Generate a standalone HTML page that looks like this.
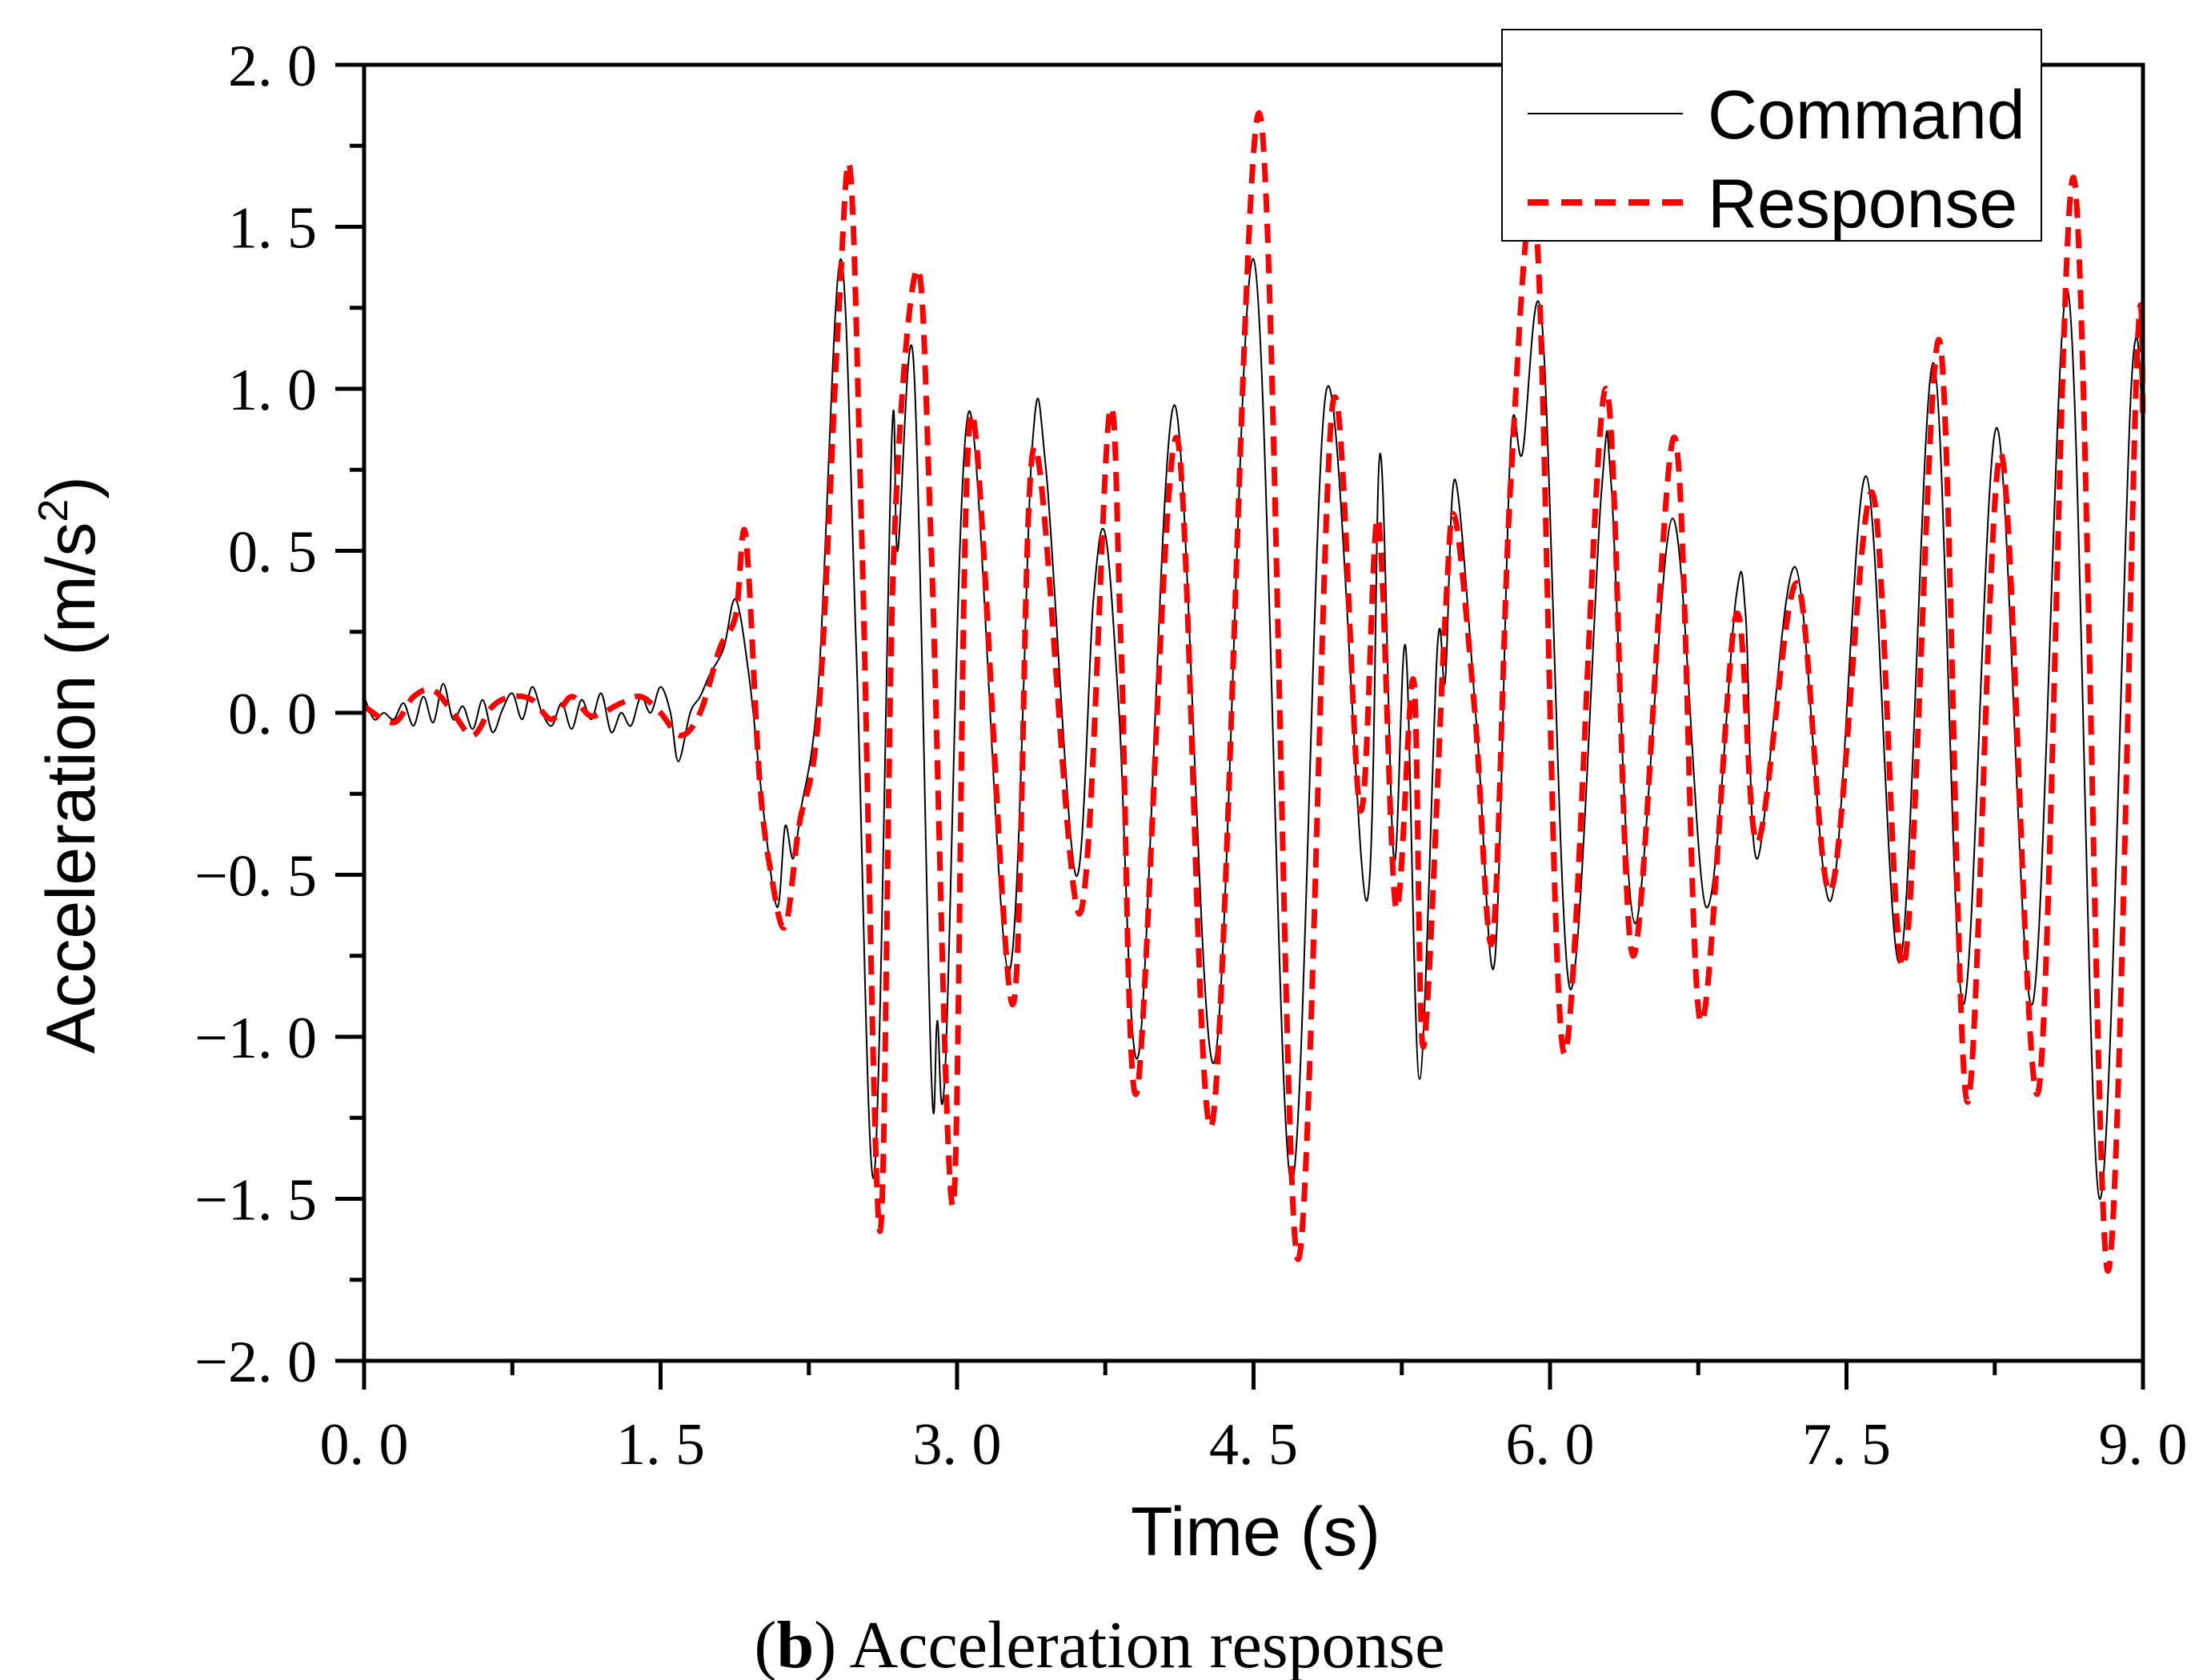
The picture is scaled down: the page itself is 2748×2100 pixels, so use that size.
<!DOCTYPE html>
<html><head><meta charset="utf-8"><style>html,body{margin:0;padding:0;background:#fff}svg{display:block}</style></head>
<body>
<svg id="chart" width="2748" height="2100" xmlns="http://www.w3.org/2000/svg">
<rect width="2748" height="2100" fill="#fff"/>
<g id="plot"></g>
<g id="axes"></g>
<text x="1569" y="1944" font-family="Liberation Sans, sans-serif" font-size="86" text-anchor="middle">Time (s)</text>
<text transform="translate(118,956) rotate(-90)" font-family="Liberation Sans, sans-serif" font-size="86" text-anchor="middle">Acceleration (m/s<tspan font-size="52" dy="-34">2</tspan><tspan dy="34">)</tspan></text>
<text x="1374" y="2084" font-family="Liberation Serif, serif" font-size="84" text-anchor="middle">(<tspan font-weight="bold">b</tspan>) Acceleration response</text>
<g>
<rect x="1877" y="37" width="674" height="264" fill="#fff" stroke="#000" stroke-width="2"/>
<line x1="1909" y1="142" x2="2103" y2="142" stroke="#000" stroke-width="2"/>
<text x="2134" y="173" font-family="Liberation Sans, sans-serif" font-size="86">Command</text>
<line x1="1909" y1="253" x2="2103" y2="253" stroke="#f00" stroke-width="8" stroke-dasharray="26,16"/>
<text x="2134" y="284" font-family="Liberation Sans, sans-serif" font-size="86">Response</text>
</g>
</svg>
<script>
const cmdT=[0,0.05,0.1,0.15,0.2,0.25,0.3,0.35,0.4,0.45,0.5,0.55,0.6,0.65,0.7,0.75,0.8,0.85,0.9,0.95,1.0,1.05,1.1,1.15,1.2,1.25,1.3,1.35,1.4,1.45,1.5,1.55,1.59,1.65,1.7,1.75,1.82,1.88,1.95,2.02,2.09,2.13,2.17,2.21,2.3,2.41,2.49,2.58,2.67,2.70,2.78,2.87,2.90,2.94,3.06,3.26,3.38,3.45,3.60,3.69,3.75,3.82,3.92,4.10,4.30,4.50,4.69,4.87,5.07,5.14,5.21,5.27,5.34,5.43,5.47,5.52,5.63,5.72,5.80,5.86,5.96,6.10,6.26,6.31,6.43,6.62,6.79,6.94,6.99,7.05,7.24,7.42,7.60,7.77,7.94,8.09,8.26,8.44,8.62,8.78,8.94,9.0];
const cmdV=[0.05,-0.02,0.0,-0.02,0.03,-0.04,0.05,-0.03,0.09,-0.02,0.02,-0.05,0.04,-0.06,0.01,0.06,-0.02,0.08,0.0,-0.04,0.03,-0.05,0.04,-0.02,0.06,-0.06,0.0,-0.04,0.05,0.0,0.08,0.0,-0.15,0.0,0.05,0.12,0.2,0.35,0.1,-0.3,-0.6,-0.35,-0.45,-0.3,0.1,1.4,0.2,-1.43,0.85,0.5,1.08,-1.12,-0.95,-1.1,0.93,-0.8,0.82,0.75,-0.5,0.35,0.55,0.0,-1.05,0.95,-1.08,1.4,-1.45,1.0,-0.58,0.8,-0.45,0.2,-1.13,0.2,0.1,0.72,-0.05,-0.77,0.82,0.8,1.2,-0.85,0.68,0.7,-0.65,0.6,-0.6,0.35,0.3,-0.45,0.45,-0.58,0.73,-0.77,1.08,-0.9,0.88,-0.9,1.3,-1.5,1.0,0.9];
const resT=[0,0.15,0.25,0.35,0.45,0.55,0.65,0.75,0.85,0.95,1.05,1.15,1.3,1.4,1.5,1.6,1.7,1.8,1.88,1.93,2.0,2.06,2.13,2.2,2.3,2.40,2.46,2.52,2.61,2.68,2.80,2.87,2.98,3.07,3.28,3.39,3.62,3.77,3.83,3.91,4.11,4.29,4.53,4.72,4.90,5.04,5.13,5.22,5.31,5.36,5.47,5.52,5.62,5.71,5.80,5.93,6.07,6.28,6.42,6.63,6.76,6.94,7.05,7.25,7.42,7.63,7.79,7.97,8.11,8.28,8.47,8.65,8.82,8.97,9.0];
const resV=[0.02,-0.03,0.05,0.07,0.0,-0.07,0.02,0.05,0.04,-0.02,0.05,-0.01,0.03,0.05,0.0,-0.07,0.0,0.2,0.3,0.55,-0.2,-0.5,-0.66,-0.35,0.0,1.22,1.67,0.5,-1.6,0.5,1.37,0.5,-1.52,0.92,-0.9,0.82,-0.62,0.92,0.2,-1.17,0.85,-1.27,1.85,-1.68,0.95,-0.3,0.6,-0.6,0.1,-1.03,0.3,0.6,0.0,-0.7,0.7,1.5,-1.05,1.0,-0.75,0.85,-0.95,0.3,-0.4,0.4,-0.55,0.68,-0.78,1.15,-1.2,0.8,-1.17,1.65,-1.72,1.1,0.9];
const xTicks=[0,1.5,3.0,4.5,6.0,7.5,9.0];
const xTickLabels=["0. 0","1. 5","3. 0","4. 5","6. 0","7. 5","9. 0"];
const yTicks=[-2,-1.5,-1,-0.5,0,0.5,1,1.5,2];
const yTickLabels=["\u22122. 0","\u22121. 5","\u22121. 0","\u22120. 5","0. 0","0. 5","1. 0","1. 5","2. 0"];

const L=455,R=2678,T=81,B=1701;
const xs=t=>L+(t-0)/(9-0)*(R-L);
const ys=v=>B-(v+2)/4*(B-T);
const NS="http://www.w3.org/2000/svg";
function mk(tag,parent){const e=document.createElementNS(NS,tag);parent.appendChild(e);return e;}
function curve(T_,V){
  const p=T_.map((t,i)=>[xs(t),ys(V[i])]);
  let d="M"+p[0][0].toFixed(1)+","+p[0][1].toFixed(1);
  for(let i=0;i<p.length-1;i++){
    const p0=p[Math.max(0,i-1)],p1=p[i],p2=p[i+1],p3=p[Math.min(p.length-1,i+2)];
    const c1=[p1[0]+(p2[0]-p0[0])/6,p1[1]+(p2[1]-p0[1])/6];
    const c2=[p2[0]-(p3[0]-p1[0])/6,p2[1]-(p3[1]-p1[1])/6];
    d+="C"+c1[0].toFixed(1)+","+c1[1].toFixed(1)+" "+c2[0].toFixed(1)+","+c2[1].toFixed(1)+" "+p2[0].toFixed(1)+","+p2[1].toFixed(1);
  }
  return d;
}
const plot=document.getElementById('plot');
const cp=mk('path',plot);


cp.setAttribute('d',curve(cmdT,cmdV));cp.setAttribute('fill','none');cp.setAttribute('stroke','#000');cp.setAttribute('stroke-width','2');
const rp=mk('path',plot);


rp.setAttribute('d',curve(resT,resV));rp.setAttribute('fill','none');rp.setAttribute('stroke','#f00');rp.setAttribute('stroke-width','7');rp.setAttribute('stroke-dasharray','24,14');

const ax=document.getElementById('axes');
const fr=mk('rect',ax);


fr.setAttribute('x',L);fr.setAttribute('y',T);fr.setAttribute('width',R-L);fr.setAttribute('height',B-T);fr.setAttribute('fill','none');fr.setAttribute('stroke','#000');fr.setAttribute('stroke-width','5');
xTicks.forEach((t,i)=>{
  const l=mk('line',ax);
  
  
  l.setAttribute('x1',xs(t));l.setAttribute('x2',xs(t));l.setAttribute('y1',B);l.setAttribute('y2',B+36);l.setAttribute('stroke','#000');l.setAttribute('stroke-width','5');
  if(i<xTicks.length-1){const m=mk('line',ax);
    
    
    const tm=(t+xTicks[i+1])/2;m.setAttribute('x1',xs(tm));m.setAttribute('x2',xs(tm));m.setAttribute('y1',B);m.setAttribute('y2',B+18);m.setAttribute('stroke','#000');m.setAttribute('stroke-width','5');}
  const tx=mk('text',ax);
  
  
  tx.setAttribute('x',xs(t));tx.setAttribute('y',1830);tx.setAttribute('text-anchor','middle');tx.setAttribute('font-family','Liberation Serif, serif');tx.setAttribute('font-size','74');tx.textContent=xTickLabels[i];
});
yTicks.forEach((v,i)=>{
  const l=mk('line',ax);
  
  
  l.setAttribute('x1',L-36);l.setAttribute('x2',L);l.setAttribute('y1',ys(v));l.setAttribute('y2',ys(v));l.setAttribute('stroke','#000');l.setAttribute('stroke-width','5');
  if(i<yTicks.length-1){const m=mk('line',ax);
    
    
    const vm=(v+yTicks[i+1])/2;m.setAttribute('x1',L-18);m.setAttribute('x2',L);m.setAttribute('y1',ys(vm));m.setAttribute('y2',ys(vm));m.setAttribute('stroke','#000');m.setAttribute('stroke-width','5');}
  const tx=mk('text',ax);
  
  
  tx.setAttribute('x',396);tx.setAttribute('y',ys(v)+26);tx.setAttribute('text-anchor','end');tx.setAttribute('font-family','Liberation Serif, serif');tx.setAttribute('font-size','74');tx.textContent=yTickLabels[i];
});
</script>
</body></html>
